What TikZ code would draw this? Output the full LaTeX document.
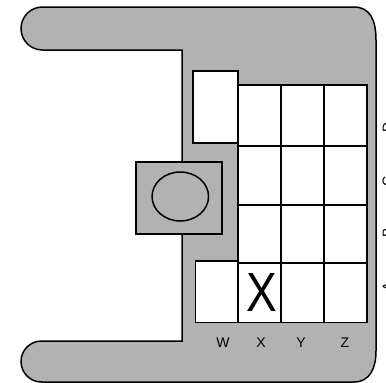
\documentclass[tikz,border=0pt]{standalone}
\usepackage{fontspec}
\setmainfont{Liberation Sans}
\usetikzlibrary{shapes.geometric}
\definecolor{boardgray}{gray}{0.7}
\tikzset{
  board/.style={draw=black,line width=1.5pt,fill=boardgray,outer sep=0,inner sep=0},
  cell/.style={draw=black,line width=1.5pt,fill=white,outer sep=0,inner sep=0,anchor=north west},
  collabel/.style={font=\fontsize{14}{16}\selectfont},
  rowlabel/.style={font=\fontsize{14}{16}\selectfont,rotate=90},
}
\begin{document}
\begin{tikzpicture}[x=1pt,y=-1pt]
  \useasboundingbox (0,0) rectangle (386,383);
  \begin{scope}
  \clip (0,0) rectangle (386,383);
  % body
  \draw[board] (42.5,7) -- (354,7) .. controls (370,7) and (376,20) .. (376,40)
    -- (376,351) .. controls (376,368) and (370,382) .. (354,382)
    -- (41.5,382) arc[start angle=90,end angle=270,radius=20.5] -- (182,341)
    -- (182,50) -- (42.5,50) arc[start angle=90,end angle=270,radius=21.5] -- cycle;
  % screen cells
  \node[cell,minimum width=45,minimum height=72] (w4) at (193,71) {};
  \node[cell,minimum width=42.5,minimum height=61.5] (w1) at (195.5,261) {};
  \foreach \cname/\cx in {x/238,y/281,z/324}{
    \foreach \rname/\ry/\rh in {d/85/61,c/146/59,b/205/58,a/263/59.5}{
      \node[cell,minimum width=43,minimum height=\rh] (\cname\rname) at (\cx,\ry) {};
    }
  }
  \node[font=\fontsize{46}{50}\selectfont,yscale=1.2,inner sep=0] (bigx) at (262,293) {X};
  % knob
  \node[board,minimum width=86,minimum height=72,anchor=north west] (knob) at (136,162) {};
  \node[draw=black,line width=1.5pt,ellipse,minimum width=56.5,minimum height=49,inner sep=0,outer sep=0] (dial) at (180.3,196.5) {};
  % labels
  \node[collabel] (lw) at (223,343) {W};
  \node[collabel] (lx) at (261,343) {X};
  \node[collabel] (ly) at (301,343) {Y};
  \node[collabel] (lz) at (345,343) {Z};
  \node[rowlabel] (ld) at (387.5,127) {D};
  \node[rowlabel] (lc) at (387.5,181) {C};
  \node[rowlabel] (lb) at (387.5,233) {B};
  \node[rowlabel] (la) at (387.5,287) {A};
  \end{scope}
\end{tikzpicture}
\end{document}
